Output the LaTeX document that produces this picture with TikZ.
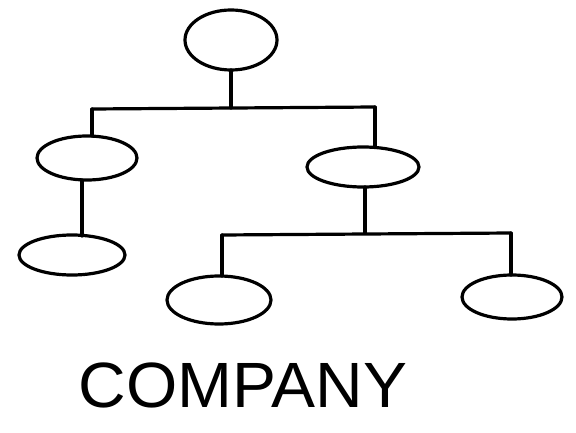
\documentclass[tikz,border=0pt]{standalone}
\usepackage{fontspec}
\setmainfont{Liberation Sans}
\begin{document}
\begin{tikzpicture}[x=1pt,y=-1pt,
  line width=3.2pt, line cap=round, line join=round,
  link/.style={draw}]
\useasboundingbox (0,0) rectangle (576,433);
\fill[white] (0,0) rectangle (576,433);
% ellipses (center, radii)
\draw (231,40) ellipse [x radius=46, y radius=30];
\draw (87,158) ellipse [x radius=50, y radius=22];
\draw (363,167) ellipse [x radius=56, y radius=20];
\draw (72,255) ellipse [x radius=53, y radius=20];
\draw (219,300) ellipse [x radius=52, y radius=24];
\draw (512,297) ellipse [x radius=50, y radius=22];
% named anchor points
\coordinate (tb) at (231,70);
\coordinate (tj) at (231,108);
\coordinate (h1l) at (92,109);
\coordinate (h1r) at (375,107);
\coordinate (lt) at (92,136);
\coordinate (rt) at (375,147);
\coordinate (lb) at (82,180);
\coordinate (llt) at (82,236);
\coordinate (rb) at (365,187);
\coordinate (rj) at (365,233);
\coordinate (h2l) at (222,235);
\coordinate (h2r) at (511,233);
\coordinate (mt) at (222,276);
\coordinate (rrt) at (511,275);
% connectors
\draw[link] (tb) -- (tj);
\draw[link] (h1l) -- (h1r);
\draw[link] (h1l) -- (lt);
\draw[link] (h1r) -- (rt);
\draw[link] (lb) -- (llt);
\draw[link] (rb) -- (rj);
\draw[link] (h2l) -- (h2r);
\draw[link] (h2l) -- (mt);
\draw[link] (h2r) -- (rrt);
\node[anchor=center, inner sep=0pt, font=\fontsize{64}{64}\selectfont, xscale=1.03] (label) at (243,385) {COMPANY};
\end{tikzpicture}
\end{document}
